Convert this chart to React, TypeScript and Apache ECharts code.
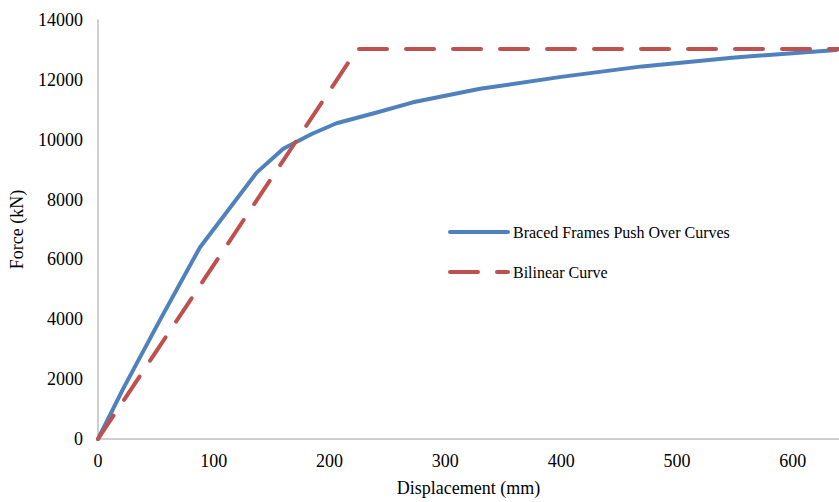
import React, { useEffect, useRef } from "react";
import * as echarts from "echarts";

// Pushover response of the braced frames: [displacement (mm), force (kN)]
const pushOverCurve: [number, number][] = [
  [0, 0],
  [22, 1700],
  [55, 4080],
  [88, 6400],
  [137, 8900],
  [160, 9700],
  [185, 10200],
  [206, 10550],
  [240, 10900],
  [272, 11250],
  [330, 11700],
  [400, 12100],
  [470, 12450],
  [550, 12750],
  [638, 13000],
];

// Idealised bilinear fit: elastic branch then yield plateau
const bilinearCurve: [number, number][] = [
  [0, 0],
  [224, 13030],
  [640, 13030],
];

const seriesNames = ["Braced Frames Push Over Curves", "Bilinear Curve"];
const xAxisTitle = "Displacement (mm)";
const yAxisTitle = "Force (kN)";

const FONT = "'Liberation Serif', 'Times New Roman', serif";

export default function App() {
  const ref = useRef<HTMLDivElement>(null);

  useEffect(() => {
    if (!ref.current) return;
    const chart = echarts.init(ref.current, undefined, { renderer: "svg" });
    const plain = (v: number) => String(v);
    chart.setOption({
      animation: false,
      backgroundColor: "#ffffff",
      grid: { left: 97, top: 20, right: 0, bottom: 61, containLabel: false },
      legend: {
        orient: "vertical",
        left: 443,
        top: 219,
        itemWidth: 58,
        itemHeight: 14,
        itemGap: 24,
        itemStyle: { opacity: 0 },
        lineStyle: { width: 4, cap: "round" },
        textStyle: { fontFamily: FONT, fontSize: 16, color: "#000" },
        data: seriesNames,
      },
      xAxis: {
        type: "value",
        min: 0,
        max: 640,
        interval: 100,
        name: xAxisTitle,
        nameLocation: "middle",
        nameGap: 40,
        nameTextStyle: { fontFamily: FONT, fontSize: 18, color: "#000" },
        axisLine: { show: true, lineStyle: { color: "#bfbfbf", width: 1.5 } },
        axisTick: { show: false },
        splitLine: { show: false },
        axisLabel: {
          fontFamily: FONT,
          fontSize: 18,
          color: "#000",
          margin: 13,
          showMaxLabel: false,
          formatter: plain,
        },
      },
      yAxis: {
        type: "value",
        min: 0,
        max: 14000,
        interval: 2000,
        name: yAxisTitle,
        nameLocation: "middle",
        nameGap: 72,
        nameTextStyle: { fontFamily: FONT, fontSize: 18, color: "#000" },
        axisLine: { show: true, lineStyle: { color: "#bfbfbf", width: 1.5 } },
        axisTick: { show: false },
        splitLine: { show: false },
        axisLabel: {
          fontFamily: FONT,
          fontSize: 18,
          color: "#000",
          margin: 15,
          formatter: plain,
        },
      },
      series: [
        {
          name: seriesNames[0],
          type: "line",
          data: pushOverCurve,
          showSymbol: false,
          symbol: "none",
          smooth: false,
          lineStyle: { color: "#4f81bd", width: 4, cap: "round", join: "round" },
          itemStyle: { color: "#4f81bd" },
        },
        {
          name: seriesNames[1],
          type: "line",
          data: bilinearCurve,
          showSymbol: false,
          symbol: "none",
          lineStyle: {
            color: "#c0504d",
            width: 4,
            type: [28, 19],
            cap: "round",
          },
          itemStyle: { color: "#c0504d" },
        },
      ],
    });
    return () => chart.dispose();
  }, []);

  return (
    <div
      ref={ref}
      style={{ position: "fixed", left: 0, top: 0, width: 839, height: 502 }}
    />
  );
}
